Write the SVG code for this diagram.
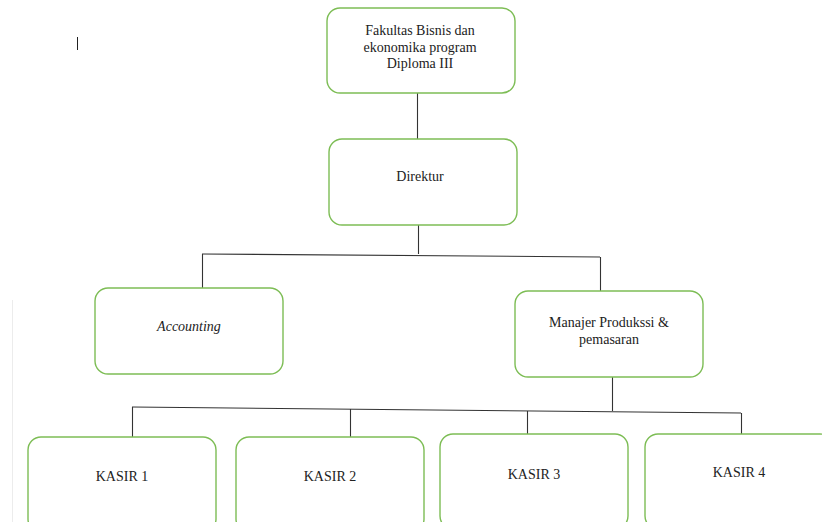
<svg xmlns="http://www.w3.org/2000/svg" width="822" height="522" viewBox="0 0 822 522">
<style>
.box{fill:#fff;stroke:#7dbd55;stroke-width:1.4}
.t{font-family:'Liberation Serif','Times New Roman',serif;font-size:14px;fill:#222;text-anchor:middle}
.c{stroke:#333;stroke-width:1.1;fill:none}
</style>
<rect width="822" height="522" fill="#fff"/>
<line x1="12.5" y1="300" x2="12.5" y2="522" stroke="#ececec" stroke-width="1"/>
<line x1="77.5" y1="37" x2="77.5" y2="50" stroke="#222" stroke-width="1"/>
<g id="connectors">
<path class="c" d="M417.5 93 V140"/>
<path class="c" d="M418.5 225 V254"/>
<path class="c" d="M202 254 L600 257"/>
<path class="c" d="M202.5 254 V288"/>
<path class="c" d="M600.5 257 V291"/>
<path class="c" d="M612.5 377 V411"/>
<path class="c" d="M132 407 L741 413"/>
<path class="c" d="M132.5 407 V437"/>
<path class="c" d="M350.5 409 V437"/>
<path class="c" d="M527.5 411 V434"/>
<path class="c" d="M741.5 413 V434"/>
</g>
<g id="fakultas">
<rect class="box" x="327" y="8" width="188" height="85" rx="13"/>
<text class="t" x="420" y="35">Fakultas Bisnis dan</text>
<text class="t" x="420" y="51.5">ekonomika program</text>
<text class="t" x="420" y="68">Diploma III</text>
</g>
<g id="direktur">
<rect class="box" x="329" y="139" width="188" height="86" rx="13"/>
<text class="t" x="420" y="181">Direktur</text>
</g>
<g id="accounting">
<rect class="box" x="95" y="288" width="188" height="86" rx="13"/>
<text class="t" x="189" y="331" font-style="italic">Accounting</text>
</g>
<g id="manajer">
<rect class="box" x="515" y="291" width="188" height="86" rx="13"/>
<text class="t" x="609" y="327">Manajer Produkssi &amp;</text>
<text class="t" x="609" y="344">pemasaran</text>
</g>
<g id="kasir1">
<rect class="box" x="28" y="437" width="188" height="95" rx="13"/>
<text class="t" x="122" y="481">KASIR 1</text>
</g>
<g id="kasir2">
<rect class="box" x="236" y="437" width="188" height="95" rx="13"/>
<text class="t" x="330" y="481">KASIR 2</text>
</g>
<g id="kasir3">
<rect class="box" x="440" y="434" width="188" height="95" rx="13"/>
<text class="t" x="534" y="479">KASIR 3</text>
</g>
<g id="kasir4">
<rect class="box" x="645" y="434" width="188" height="95" rx="13"/>
<text class="t" x="739" y="477">KASIR 4</text>
</g>
</svg>
